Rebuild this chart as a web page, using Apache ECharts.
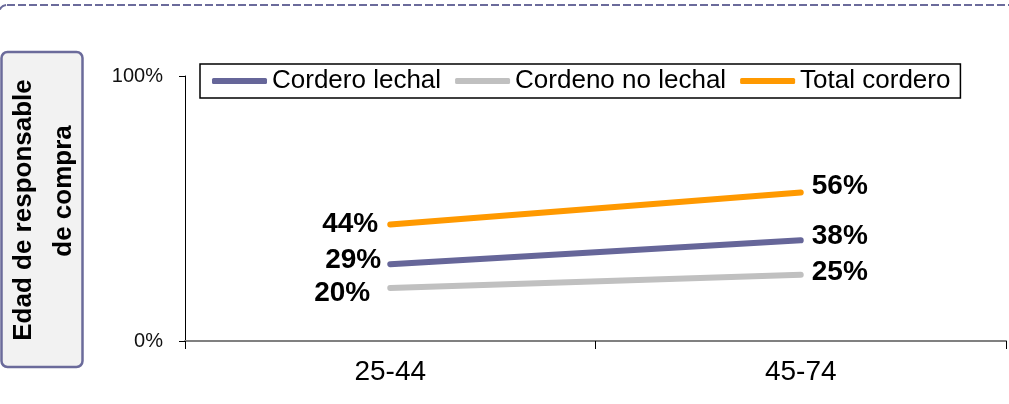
<!DOCTYPE html>
<html>
<head>
<meta charset="utf-8">
<script src="https://cdn.jsdelivr.net/npm/echarts@6/dist/echarts.min.js"></script>
<style>
html,body{margin:0;padding:0;background:#fff;}
#chart{width:1009px;height:404px;}
</style>
</head>
<body>
<div id="chart"></div>
<script>
const categories = ['25-44', '45-74'];
const seriesNames = ['Cordero lechal', 'Cordeno no lechal', 'Total cordero'];
const cordeoLechal = [29, 38];
const cordenoNoLechal = [20, 25];
const totalCordero = [44, 56];
const yTickLabels = {0: '0%', 100: '100%'};
const sideTitle = ['Edad de responsable', 'de compra'];

const colors = ['#666699', '#C0C0C0', '#FF9900'];
const values = [cordeoLechal, cordenoNoLechal, totalCordero];
// label offsets [left point, right point] for each series (styling only)
const labelOffsets = [
  [[3, -4], [0, -4]],
  [[-8, 5], [0, -2]],
  [[0, 0], [0, -6]]
];

const chart = echarts.init(document.getElementById('chart'), null, {renderer: 'canvas'});
const FONT = '"Liberation Sans", Arial, sans-serif';

const series = values.map((vals, si) => ({
  name: seriesNames[si],
  type: 'line',
  symbol: 'circle',
  symbolSize: 2,
  showSymbol: true,
  data: vals.map((v, i) => ({
    value: v,
    label: {
      show: true,
      position: i === 0 ? 'left' : 'right',
      distance: i === 0 ? 11 : 10,
      offset: labelOffsets[si][i],
      formatter: (p) => p.value + '%',
      fontFamily: FONT,
      fontWeight: 'bold',
      fontSize: 28,
      color: '#000'
    }
  })),
  lineStyle: {color: colors[si], width: 6, cap: 'round'},
  itemStyle: {color: colors[si], borderWidth: 0},
  emphasis: {disabled: true},
  z: si === 2 ? 3 : 2
}));

chart.setOption({
  animation: false,
  color: colors,
  textStyle: {fontFamily: FONT},
  grid: {left: 185, right: 3, top: 76, bottom: 63, containLabel: false},
  legend: {
    left: 200,
    top: 64,
    orient: 'horizontal',
    data: seriesNames,
    icon: 'roundRect',
    itemWidth: 55,
    itemHeight: 6,
    itemGap: 14,
    padding: [4, 10, 4, 12],
    borderColor: '#000',
    borderWidth: 1.5,
    textStyle: {fontFamily: FONT, fontSize: 26, color: '#000'}
  },
  xAxis: {
    type: 'category',
    data: categories,
    boundaryGap: true,
    axisLine: {show: true, lineStyle: {color: '#808080', width: 2}},
    axisTick: {show: true, length: 8, lineStyle: {color: '#000', width: 1}},
    axisLabel: {fontFamily: FONT, fontSize: 28, color: '#000', margin: 17},
    splitLine: {show: false}
  },
  yAxis: {
    type: 'value',
    min: 0,
    max: 100,
    interval: 100,
    axisLine: {show: true, lineStyle: {color: '#000', width: 1}},
    axisTick: {show: true, length: 6, lineStyle: {color: '#000', width: 1}},
    axisLabel: {fontFamily: FONT, fontSize: 20, color: '#111', margin: 22,
      formatter: (v) => yTickLabels[v] !== undefined ? yTickLabels[v] : ''},
    splitLine: {show: false}
  },
  graphic: [
    {
      type: 'rect',
      silent: true,
      shape: {x: -1, y: 5, width: 1100, height: 600, r: 8},
      style: {fill: 'none', stroke: '#6B6B9B', lineWidth: 2, lineDash: [8, 3]}
    },
    {
      type: 'rect',
      silent: true,
      shape: {x: 1.5, y: 52, width: 81, height: 315, r: 6},
      style: {fill: '#F2F2F2', stroke: '#6B6B9B', lineWidth: 2.5}
    },
    {
      type: 'text',
      silent: true,
      x: 24, y: 210,
      rotation: Math.PI / 2,
      style: {text: sideTitle[0], x: 0, y: 0, align: 'center', verticalAlign: 'middle',
        font: 'bold 26px "Liberation Sans", Arial, sans-serif', fill: '#000'}
    },
    {
      type: 'text',
      silent: true,
      x: 64, y: 191,
      rotation: Math.PI / 2,
      style: {text: sideTitle[1], x: 0, y: 0, align: 'center', verticalAlign: 'middle',
        font: 'bold 26px "Liberation Sans", Arial, sans-serif', fill: '#000'}
    }
  ],
  series: series
});
</script>
</body>
</html>
